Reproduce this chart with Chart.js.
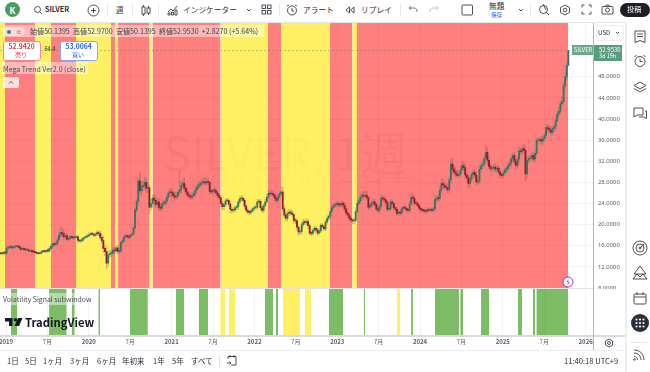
<!DOCTYPE html>
<html lang="ja">
<head>
<meta charset="utf-8">
<title>SILVER 1週</title>
<script src="https://cdn.jsdelivr.net/npm/chart.js@4"></script>
<style>
html,body{margin:0;padding:0;background:#fff}
body{width:650px;height:372px;position:relative;overflow:hidden;font-family:"Noto Sans CJK JP","Noto Sans",sans-serif;color:#2a2e39}
canvas{position:absolute;left:0;top:0;z-index:1}
.t{position:absolute;white-space:nowrap;line-height:1;transform:translateY(-50%);z-index:3}
.b{position:absolute;z-index:2}
svg.i{position:absolute;z-index:3;fill:none;stroke:#3a3d46;stroke-width:.9}
.wm{position:absolute;white-space:nowrap;line-height:1;color:rgba(120,30,30,.08);z-index:0;transform:translateY(-50%)}
</style>
</head>
<body>
<div class="wm" style="left:163px;top:150px;font-size:47px">SILVER, 1週</div>
<div class="wm" style="left:188px;top:180px;font-size:18px">銀 CFD（米ドル／トロイオンス）</div>
<canvas id="myChart" width="650" height="372"></canvas>

<!-- top toolbar -->
<div class="b" style="left:0;top:0;width:650px;height:22px;background:#fff;border-bottom:1px solid #e6e7ea"></div>
<div class="b" style="left:5px;top:2px;width:15px;height:15px;border-radius:50%;background:#4f9a5e;z-index:3"></div>
<div class="t" style="left:9.5px;top:10px;font-size:8.5px;font-weight:700;color:#fff">K</div>
<svg class="i" style="left:33px;top:5px" width="10" height="10"><circle cx="4.5" cy="4.5" r="3"/><path d="M6.7 6.7L9 9"/></svg>
<div class="t" style="left:45px;top:10px;font-size:7.2px;font-weight:700">SILVER</div>
<svg class="i" style="left:87px;top:4px" width="13" height="13"><circle cx="6.5" cy="6.5" r="5.5"/><path d="M6.5 4v5M4 6.5h5"/></svg>
<div class="b" style="left:107px;top:4px;width:1px;height:12px;background:#e6e7ea;z-index:3"></div>
<div class="t" style="left:116px;top:10px;font-size:7.5px">週</div>
<div class="b" style="left:132px;top:4px;width:1px;height:12px;background:#e6e7ea;z-index:3"></div>
<svg class="i" style="left:141px;top:4px" width="10" height="13"><rect x="1" y="3" width="3" height="7"/><rect x="6" y="4" width="3" height="5"/><path d="M2.5 1v2M2.5 10v2M7.5 2v2M7.5 9v2"/></svg>
<div class="b" style="left:158px;top:4px;width:1px;height:12px;background:#e6e7ea;z-index:3"></div>
<svg class="i" style="left:167px;top:4px" width="11" height="12"><path d="M1 8l3-3 2 2 4-5M1 11h2V9H1zM4.5 11h2V8h-2zM8 11h2V6H8z"/></svg>
<div class="t" style="left:183px;top:10px;font-size:7.7px">インジケーター</div>
<svg class="i" style="left:246px;top:8px" width="6" height="5"><path d="M1 1l2 2 2-2"/></svg>
<svg class="i" style="left:261px;top:4px" width="11" height="11"><rect x="1" y="1" width="3.5" height="3.5"/><rect x="6.5" y="1" width="3.5" height="3.5"/><rect x="1" y="6.5" width="3.5" height="3.5"/><rect x="6.5" y="6.5" width="3.5" height="3.5"/></svg>
<div class="b" style="left:279px;top:4px;width:1px;height:12px;background:#e6e7ea;z-index:3"></div>
<svg class="i" style="left:286px;top:4px" width="12" height="13"><circle cx="6" cy="6.5" r="4.5"/><path d="M6 4v3h2M1 2l2-1M11 2L9 1"/></svg>
<div class="t" style="left:303px;top:10px;font-size:7.7px">アラート</div>
<svg class="i" style="left:345px;top:5px" width="10" height="10"><path d="M4.5 2L1 5l3.5 3zM9 2L5.5 5 9 8z"/></svg>
<div class="t" style="left:361px;top:10px;font-size:7.7px">リプレイ</div>
<div class="b" style="left:400px;top:4px;width:1px;height:12px;background:#e6e7ea;z-index:3"></div>
<svg class="i" style="left:408px;top:5px;stroke:#6a6d78" width="10" height="9"><path d="M3 1L1 3l2 2M1 3h5c2 0 3 1 3 4"/></svg>
<svg class="i" style="left:429px;top:5px;stroke:#b9bbc2" width="10" height="9"><path d="M7 1l2 2-2 2M9 3H4C2 3 1 4 1 7"/></svg>
<svg class="i" style="left:461px;top:4px" width="13" height="12"><rect x="1" y="1" width="10.5" height="10" rx="1"/></svg>
<div class="t" style="left:489px;top:6px;font-size:7.7px">無題</div>
<div class="t" style="left:491px;top:15.5px;font-size:5.5px;color:#2962ff">保存</div>
<svg class="i" style="left:518px;top:8px" width="6" height="5"><path d="M1 1l2 2 2-2"/></svg>
<div class="b" style="left:530px;top:4px;width:1px;height:12px;background:#e6e7ea;z-index:3"></div>
<svg class="i" style="left:538px;top:3px" width="12" height="13"><circle cx="5.5" cy="6.5" r="4"/><path d="M8.5 9.5l2.5 2.5M5 1l3 6"/></svg>
<svg class="i" style="left:559px;top:4px" width="12" height="12"><path d="M6 1l4.5 2.5v5L6 11 1.5 8.500v-5z"/><circle cx="6" cy="6" r="1.800"/></svg>
<svg class="i" style="left:581px;top:4px" width="11" height="11"><path d="M1 3.500V1h2.500M7.500 1H10v2.500M10 7.500V10H7.500M3.500 10H1V7.500"/></svg>
<svg class="i" style="left:601px;top:4px" width="13" height="11"><rect x="1" y="2.500" width="11" height="7.500" rx="1"/><circle cx="6.500" cy="6" r="2"/><path d="M4.500 2.500l.7-1.500h2.600l.7 1.500"/></svg>
<div class="b" style="left:620px;top:3px;width:30px;height:14px;border-radius:7px;background:#1e1f22;z-index:3"></div>
<div class="t" style="left:627px;top:10px;font-size:7.2px;color:#fff">投稿</div>

<!-- legend area -->
<div class="b" style="left:3px;top:25px;width:261px;height:12px;background:rgba(255,255,255,.45);z-index:3"></div>
<div class="b" style="left:3px;top:27px;width:22px;height:9px;border-radius:5px;background:rgba(255,255,255,.45);z-index:3"></div>
<div class="b" style="left:7px;top:29.500px;width:4px;height:4px;border-radius:50%;background:#089981;z-index:3"></div>
<div class="t" style="left:16px;top:31.500px;font-size:6px;color:#e0455a">≈</div>
<div class="t" style="left:30px;top:31.500px;font-size:7.1px;color:#3a3d46">始値50.1395&nbsp; 高値52.9700&nbsp; 安値50.1395&nbsp; 終値52.9530&nbsp; +2.8270 (+5.64%)</div>
<div class="b" style="left:3px;top:41px;width:36px;height:18px;background:#fff;border:1px solid #f08a94;border-radius:3px;z-index:3"></div>
<div class="t" style="left:8.500px;top:46px;font-size:6.800px;font-weight:700;color:#e5394d">52.9420</div>
<div class="t" style="left:15px;top:54.500px;font-size:6px;color:#e5394d">売り</div>
<div class="t" style="left:44.500px;top:50px;font-size:5.500px">64.4</div>
<div class="b" style="left:60px;top:41px;width:36px;height:18px;background:#fff;border:1px solid #8aa8f5;border-radius:3px;z-index:3"></div>
<div class="t" style="left:65.500px;top:46px;font-size:6.800px;font-weight:700;color:#2962ff">53.0064</div>
<div class="t" style="left:72px;top:54.500px;font-size:6px;color:#2962ff">買い</div>
<div class="b" style="left:2px;top:62px;width:86px;height:12px;background:rgba(255,255,255,.45);z-index:3"></div>
<div class="t" style="left:3px;top:68.500px;font-size:7px;color:#4a4d57">Mega Trend Ver2.0 (close)</div>
<div class="b" style="left:3px;top:77px;width:16px;height:11px;background:rgba(255,255,255,.75);border-radius:2px;z-index:3"></div>
<svg class="i" style="left:8px;top:80px" width="6" height="5"><path d="M1 3.500l2-2 2 2"/></svg>

<!-- sub window -->
<div class="b" style="left:0;top:288px;width:593px;height:1px;background:#e0e3eb"></div>
<div class="b" style="left:593px;top:289px;width:32px;height:46px;background:#fff"></div>
<div class="b" style="left:0;top:335px;width:625px;height:2px;background:#d8d9dd"></div>
<div class="b" style="left:593px;top:23px;width:1px;height:327px;background:#b2b5be"></div>
<div class="b" style="left:0;top:350px;width:625px;height:1px;background:#eceef2"></div>
<div class="b" style="left:2px;top:293px;width:91px;height:12px;background:rgba(255,255,255,.45);z-index:3"></div>
<div class="t" style="left:3px;top:299px;font-size:6.900px;color:#4a4d57">Volatility Signal subwindow</div>
<svg style="position:absolute;left:5px;top:318px;z-index:3" width="18" height="10"><path fill="#131722" d="M0 0h7.500v8H4V3.500H0zM9.500 8L13 0h4.500l-3.500 8z"/><circle cx="10.500" cy="1.800" r="1.800" fill="#131722"/></svg>
<div class="t" style="left:25px;top:323px;font-size:11.300px;font-weight:600;color:#131722">TradingView</div>

<!-- lightning marker -->
<svg style="position:absolute;left:562px;top:276px;z-index:3" width="12" height="12"><circle cx="6" cy="6" r="5" fill="#fff" stroke="#9c27b0" stroke-width=".9"/><path d="M6.800 2.800L4.500 6.300h1.700L5.200 9.200l2.400-3.500H5.900z" fill="#9c27b0"/></svg>

<!-- price axis tags -->
<div class="b" style="left:596px;top:25px;width:26px;height:14px;background:#fff;border:1px solid #eceef2;border-radius:3px;z-index:3"></div>
<div class="t" style="left:598px;top:32.500px;font-size:6.200px">USD</div>
<svg class="i" style="left:615px;top:31px" width="5" height="4"><path d="M1 1l1.500 1.500L4 1"/></svg>
<div class="b" style="left:572px;top:45px;width:21px;height:10px;background:#6aa98c;z-index:3"></div>
<div class="t" style="left:574px;top:50px;font-size:5.800px;color:#fff">SILVER</div>
<div class="b" style="left:594px;top:45px;width:28px;height:16px;background:#5b9d7f;z-index:3"></div>
<div class="t" style="left:599px;top:49.500px;font-size:6px;color:#fff">52.9530</div>
<div class="t" style="left:599px;top:57px;font-size:5.500px;color:#fff">3d 19h</div>

<!-- bottom bar -->
<div class="t" style="left:7px;top:360.500px;font-size:7.500px">1日</div>
<div class="t" style="left:25px;top:360.500px;font-size:7.500px">5日</div>
<div class="t" style="left:43px;top:360.500px;font-size:7.500px">1ヶ月</div>
<div class="t" style="left:70px;top:360.500px;font-size:7.500px">3ヶ月</div>
<div class="t" style="left:97px;top:360.500px;font-size:7.500px">6ヶ月</div>
<div class="t" style="left:122px;top:360.500px;font-size:7.500px">年初来</div>
<div class="t" style="left:153px;top:360.500px;font-size:7.500px">1年</div>
<div class="t" style="left:172px;top:360.500px;font-size:7.500px">5年</div>
<div class="t" style="left:191px;top:360.500px;font-size:7.500px">すべて</div>
<div class="b" style="left:219px;top:355px;width:1px;height:12px;background:#e0e3eb;z-index:3"></div>
<svg class="i" style="left:226px;top:354px" width="12" height="13"><path d="M2 5V2.500h8V11H5M2 2.500h8M4 1v2.500M8 1v2.500M1 9h4M3.500 7.500L5 9l-1.500 1.500"/></svg>
<div class="t" style="left:564px;top:360.500px;font-size:7.600px">11:40:18 UTC+9</div>
<svg class="i" style="left:604px;top:338px" width="10" height="10"><path d="M5 1l3.500 2v4L5 9 1.500 7V3z"/><circle cx="5" cy="5" r="1.500"/></svg>

<!-- right sidebar -->
<div class="b" style="left:625px;top:22px;width:2px;height:350px;background:#eceef2;z-index:3"></div>
<div class="b" style="left:627px;top:22px;width:23px;height:350px;background:#fff;z-index:2"></div>
<svg class="i" style="left:633px;top:30px" width="14" height="14"><path d="M2 1h10v11.500L7 10.500 2 12.500zM4 4h6M4 6.500h6"/></svg>
<svg class="i" style="left:633px;top:54px" width="14" height="14"><circle cx="7" cy="7.500" r="5"/><path d="M7 4.500v3h2.500M1.500 3l2-2M12.500 3l-2-2"/></svg>
<svg class="i" style="left:633px;top:80px" width="14" height="14"><path d="M7 2l6 3.500L7 9 1 5.500zM1 8.500L7 12l6-3.500"/></svg>
<svg class="i" style="left:632px;top:106px" width="16" height="14"><path d="M2 2h9v7H5L2 11zM13 5h1.500v7.500L12 11H7"/></svg>
<svg class="i" style="left:632px;top:240px" width="16" height="16"><circle cx="8" cy="8" r="7"/><circle cx="8" cy="8" r="4"/><circle cx="8" cy="8" r="1"/><path d="M8 8l4-4"/></svg>
<svg class="i" style="left:632px;top:265px" width="16" height="15"><path d="M8 1l6 8H2zM1 14l4-5 3 3 3-3 4 5z"/></svg>
<svg class="i" style="left:633px;top:291px" width="14" height="14"><rect x="1" y="3" width="12" height="10" rx="1"/><path d="M1 6h12M4 1v3M10 1v3"/></svg>
<div class="b" style="left:631px;top:314px;width:18px;height:18px;border-radius:50%;background:#2a2e39;z-index:3"></div>
<svg style="position:absolute;left:635px;top:318px;z-index:3" width="10" height="10" fill="#fff"><circle cx="1.500" cy="1.500" r="1.100"/><circle cx="5" cy="1.500" r="1.100"/><circle cx="8.500" cy="1.500" r="1.100"/><circle cx="1.500" cy="5" r="1.100"/><circle cx="5" cy="5" r="1.100"/><circle cx="8.500" cy="5" r="1.100"/><circle cx="1.500" cy="8.500" r="1.100"/><circle cx="5" cy="8.500" r="1.100"/><circle cx="8.500" cy="8.500" r="1.100"/></svg>
<div class="b" style="left:631px;top:342px;width:16px;height:1px;background:#e6e7ea;z-index:3"></div>
<svg class="i" style="left:633px;top:348px" width="13" height="13"><path d="M1 5c4 0 7 3 7 7M1 2c6 0 10 4 10 10M1 8.500c2 0 3.500 1.500 3.500 3.500"/><circle cx="1.500" cy="11.500" r=".8"/></svg>

<script>
// x values are decimal years, weekly bars from early Dec 2018
const firstWeek = 2018.93;
const weekStep = 7 / 365.25;

const closes = [
  14.6,14.5,14.7,14.6,15.5,15.7,15.8,15.6,15.7,15.8,
  15.9,15.9,15.6,15.3,15.5,15.3,15.2,15.2,15.0,15.1,
  14.9,14.8,14.7,14.6,14.5,14.6,14.9,15.0,14.9,15.1,
  15.0,15.5,15.9,16.3,16.2,16.4,17.1,18.0,18.5,18.3,
  17.7,17.9,17.2,17.4,17.7,17.6,17.5,17.6,17.7,17.0,
  16.9,17.0,17.4,17.6,17.7,17.9,18.1,18.3,18.2,18.0,
  18.2,18.5,18.3,17.6,17.0,15.5,14.9,12.7,14.3,14.5,
  14.6,15.2,15.0,15.6,14.9,15.0,16.6,16.9,17.7,17.9,
  17.7,17.6,18.0,18.2,19.4,22.8,24.4,28.3,26.4,27.2,
  27.4,28.0,26.9,27.0,23.3,24.0,25.0,24.6,23.8,24.3,
  23.3,23.1,24.0,24.0,24.4,25.2,26.0,26.2,26.0,25.5,
  25.2,25.4,26.1,26.5,27.4,27.8,26.9,26.2,25.6,25.4,
  25.2,25.5,25.9,26.6,27.1,27.5,27.8,28.0,28.1,27.9,
  28.1,28.0,26.3,26.2,26.5,26.4,26.0,25.5,25.1,24.0,
  23.4,23.8,24.5,24.6,23.9,22.9,22.7,22.8,23.2,23.4,
  24.3,24.9,25.0,24.6,23.5,22.7,22.4,22.3,22.6,23.0,
  23.2,23.3,24.3,24.4,23.2,22.7,23.6,24.3,25.2,25.9,
  25.8,25.9,25.6,25.0,24.6,25.3,25.9,26.2,23.0,21.8,
  21.2,22.1,22.4,22.2,21.9,20.8,20.7,19.5,18.6,18.7,
  20.0,20.5,20.4,20.6,19.8,18.4,18.3,18.9,19.3,19.0,
  18.4,18.8,19.9,19.6,19.2,20.5,21.2,21.6,22.5,23.3,
  23.6,23.8,24.0,23.8,23.7,24.1,23.7,23.0,22.2,21.8,
  21.2,20.9,20.7,20.8,22.5,24.0,24.5,25.2,25.5,25.4,
  25.6,25.1,23.3,23.6,24.1,24.3,23.8,23.0,22.7,23.4,
  25.0,24.9,24.7,24.2,22.9,23.0,24.3,24.0,23.2,22.9,
  22.1,22.3,22.2,23.0,23.3,23.1,22.8,22.7,23.9,25.2,
  25.0,24.1,24.0,23.6,23.1,22.8,22.7,22.6,22.5,22.8,
  22.7,22.9,22.7,23.0,24.8,25.0,24.9,26.5,27.8,27.5,
  27.1,27.0,26.6,28.5,31.5,30.5,30.0,29.6,29.3,29.5,
  30.4,31.2,30.8,29.4,28.9,27.8,28.6,29.5,29.9,29.4,
  28.1,28.3,30.5,31.2,31.4,32.5,33.7,32.2,31.0,30.6,
  30.7,30.9,30.5,30.7,30.0,29.4,29.3,29.8,30.3,30.6,
  31.2,31.6,32.5,33.1,32.0,31.2,32.4,34.0,33.8,34.4,
  34.1,29.6,32.2,32.5,32.7,33.1,32.4,33.5,35.9,36.0,
  36.1,35.8,36.3,36.9,38.4,38.2,37.9,37.5,38.2,38.5,
  39.7,40.9,41.5,42.9,43.3,46.3,48.0,50.1395,52.953
];
const firstOpen = 14.5;

// how far each wick sticks out past the body
const wickUp = [
  .2,.2,.2,.3,.3,.2,.2,.2,.2,.2, .2,.1,.2,.2,.2,.2,.1,.2,.2,.1,
  .2,.1,.2,.1,.1,.2,.2,.2,.1,.2, .3,.3,.4,.2,.4,.3,.4,.6,1.1,.9,
  .8,.4,.4,.3,.3,.2,.2,.2,.2,.3, .2,.3,.2,.2,.2,.3,.4,.2,.3,.2,
  .3,.4,.3,.5,.6,.8,.6,.8,.6,.8, .4,.5,.5,.4,.5,.4,.3,.4,.3,.3,
  .3,.4,.2,.2,.2,.3,.4,.5,1.6,1.0, .9,1.0,.8,.9,.5,.8,.6,.7,.8,.5,
  .8,.6,.5,.7,.5,.6,.5,.6,.7,.5, .7,.6,.6,3.6,.8,.9,1.2,.6,.7,.5,
  .5,.6,.5,.6,.6,.5,.5,.6,.7,.8, .6,.7,.3,.5,.4,.5,.5,.4,.4,.5,
  .5,.5,.4,.4,.3,.4,.3,.4,.4,.3, .4,.4,.5,.4,.4,.4,.4,.3,.3,.3,
  .3,.4,.5,.4,.4,.3,.4,.5,.6,.7, .5,.7,.5,.4,.5,.4,.4,1.0,.9,.6,
  .5,.5,.5,.4,.4,.3,.4,.4,.3,.4, .4,.5,.4,.6,.4,.3,.4,.3,.4,.3,
  .4,.3,.3,.3,.4,.4,.5,.4,.5,.5, .4,.4,.4,.4,.4,.3,.4,.5,.4,.4,
  .4,.4,.3,.4,.5,.6,.6,.7,.7,.8, .8,.7,.3,.5,.4,.6,.5,.4,.6,.5,
  .6,.6,.5,.5,.4,.4,.5,.5,.4,.3, .4,.4,.4,.4,.3,.4,.3,.3,.6,.8,
  .7,.5,.4,.4,.3,.3,.4,.3,.3,.4, .3,.3,.3,.4,.6,.6,.5,.6,.8,.9,
  .6,.6,.8,.7,1.0,1.0,.8,.8,.7,.6, .7,.8,.6,.8,.5,.6,.6,.5,.5,.6,
  .6,.7,.8,.6,.7,.7,1.3,.8,.8,.6, .5,.5,.6,.5,.5,.6,.4,.6,.5,.5,
  .6,.6,.5,.5,.6,.5,.6,.6,.5,.6, .8,.7,.6,.6,.5,.5,.5,.5,.5,.5,
  .5,.6,.5,.5,.6,.6,.6,.7,.6,.5, .5,.5,.6,.5,.7,.6,.8,.9,.02
];
const wickDown = [
  .2,.3,.2,.2,.3,.2,.1,.2,.2,.2, .1,.2,.2,.2,.1,.2,.1,.2,.2,.1,
  .2,.2,.2,.2,.1,.1,.1,.2,.2,.2, .2,.2,.3,.3,.3,.2,.3,.3,.5,.6,
  .5,.4,.4,.3,.3,.2,.3,.2,.2,.3, .2,.3,.2,.2,.2,.2,.2,.3,.2,.3,
  .3,.3,.4,.4,.5,.7,.8,1.0,.6,.5, .5,.4,.6,.4,.5,.4,.3,.3,.3,.3,
  .3,.3,.2,.2,.2,.4,.5,.6,.6,1.0, .7,.7,.8,.8,1.3,.6,.7,.7,.5,.6,
  .7,.5,.5,.5,.5,.5,.4,.4,.7,.5, .6,.4,.5,.4,.6,.5,.5,.5,.5,.5,
  .4,.5,.4,.5,.4,.4,.4,.4,.4,.5, .4,.4,.5,.4,.5,.4,.5,.4,.4,.5,
  .6,.5,.4,.3,.4,.6,.5,.4,.4,.4, .5,.4,.3,.4,.5,.5,.4,.4,.4,.3,
  .4,.3,.4,.3,.4,.4,.4,.3,.3,.4, .4,.3,.4,.5,.4,.4,.3,.4,.4,.5,
  .5,.5,.4,.4,.3,.4,.5,.5,.6,.5, .4,.4,.3,.4,.5,.4,.4,.3,.4,.3,
  .4,.3,.3,.3,.4,.3,.4,.4,.4,.3, .4,.4,.4,.4,.4,.3,.4,.5,.4,.5,
  .5,.4,.5,.6,.4,.4,.4,.4,.5,.4, .5,.4,.5,.4,.4,.5,.4,.4,.4,.5,
  .4,.5,.4,.4,.4,.3,.4,.5,.4,.4, .4,.4,.4,.4,.3,.3,.4,.4,.3,.3,
  .4,.4,.3,.3,.4,.3,.3,.3,.4,.3, .3,.3,.3,.3,.4,.5,.5,.5,.5,.6,
  .4,.5,.6,.5,.8,.7,.6,.5,.5,.4, .5,.5,.6,.7,.6,.8,.7,.5,.5,.6,
  .6,.5,.6,.5,.6,.5,.7,.8,.6,.5, .6,.5,.5,.6,.5,.5,.4,.5,.5,.4,
  .5,.5,.6,.5,.6,.6,.5,.5,.5,.5, .6,1.3,.8,.6,.5,.5,.5,.5,.5,.5,
  .5,.6,.6,.5,.5,.6,.5,.5,.5,.6, .6,.5,.5,.5,.5,.5,.6,.6,0
];

// background regime bands, [start, end] in decimal years
const redBands = [[2018.988,2019.350],[2019.543,2019.845],[2020.268,2020.316],[2020.353,2020.733],[2020.769,2021.591],[2022.164,2022.321],[2022.913,2023.182],[2023.239,2025.787]];
const yellowBands = [[2018.928,2018.988],[2019.350,2019.543],[2019.845,2020.268],[2020.316,2020.353],[2020.733,2020.769],[2021.591,2022.164],[2022.321,2022.913],[2023.182,2023.239]];

// volatility subwindow bands
const greenSignal = [[2019.06,2019.137],[2019.52,2019.733],[2019.794,2019.83],[2020.115,2020.135],[2020.498,2020.713],[2021.053,2021.153],[2021.327,2021.44],[2022.128,2022.225],[2022.261,2022.285],[2022.9,2023.07],[2023.32,2023.336],[2023.892,2023.917],[2024.181,2024.47],[2024.486,2024.522],[2024.737,2024.834],[2025.18,2025.232],[2025.365,2025.389],[2025.405,2025.787]];
const yellowSignal = [[2021.588,2021.648],[2021.69,2021.766],[2022.346,2022.551],[2022.611,2022.683],[2023.722,2023.759]];

const priceTicks = [8,12,16,20,24,28,32,36,40,44,48];
const timeTicks = [2019,2019.5,2020,2020.5,2021,2021.5,2022,2022.5,2023,2023.5,2024,2024.5,2025,2025.5,2026];
const timeLabels = ["2019","7月","2020","7月","2021","7月","2022","7月","2023","7月","2024","7月","2025","7月","2026"];
const lastPrice = 52.953;
const priceMin = 8, priceMax = 58.19;
const timeMin = 2018.9275, timeMax = 2026.089;

const weekX = closes.map((c, i) => firstWeek + i * weekStep);
const opens = closes.map((c, i) => i === 0 ? firstOpen : closes[i - 1]);
const bodies = closes.map((c, i) => ({x: weekX[i], y: [opens[i], c]}));
const wicks = closes.map((c, i) => ({
  x: weekX[i],
  y: [Math.min(opens[i], c) - wickDown[i], Math.max(opens[i], c) + wickUp[i]]
}));

function bandPoints(bands, top) {
  const pts = [];
  bands.forEach(b => {
    pts.push({x: b[0], y: top}, {x: b[1], y: top}, {x: b[1], y: null});
  });
  return pts;
}
function bandDataset(bands, top, axis, color) {
  return {
    type: 'line',
    data: bandPoints(bands, top),
    yAxisID: axis,
    backgroundColor: color,
    borderWidth: 0,
    pointRadius: 0,
    fill: 'start',
    spanGaps: false,
    order: 5
  };
}

const chart = new Chart(document.getElementById("myChart").getContext("2d"), {
  type: 'bar',
  data: {
    datasets: [
      bandDataset(redBands, priceMax, 'y', 'rgba(255,0,0,0.5)'),
      bandDataset(yellowBands, priceMax, 'y', 'rgba(255,235,59,0.8)'),
      bandDataset(greenSignal, 1, 'ySub', 'rgba(68,160,35,0.7)'),
      bandDataset(yellowSignal, 1, 'ySub', 'rgba(255,235,59,0.8)'),
      {
        data: wicks,
        yAxisID: 'y',
        grouped: false,
        barThickness: 0.6,
        backgroundColor: ctx => closes[ctx.dataIndex] >= opens[ctx.dataIndex] ? 'rgba(70,110,95,0.35)' : 'rgba(130,60,70,0.35)',
        order: 2
      },
      {
        data: bodies,
        yAxisID: 'y',
        grouped: false,
        barThickness: 1.2,
        minBarLength: 1,
        backgroundColor: ctx => closes[ctx.dataIndex] >= opens[ctx.dataIndex] ? '#2f7a5c' : '#8a1f2e',
        order: 1
      },
      {
        type: 'line',
        data: [{x: timeMin, y: lastPrice}, {x: timeMax, y: lastPrice}],
        yAxisID: 'y',
        borderColor: 'rgba(70,120,95,0.55)',
        borderWidth: 0.7,
        borderDash: [2, 2],
        pointRadius: 0,
        order: 0
      }
    ]
  },
  options: {
    responsive: false,
    animation: false,
    events: [],
    layout: {padding: {top: 23, right: 25, bottom: 22, left: 0}},
    plugins: {legend: {display: false}, tooltip: {enabled: false}},
    scales: {
      x: {
        type: 'linear',
        offset: false,
        min: timeMin,
        max: timeMax,
        afterBuildTicks: s => { s.ticks = timeTicks.map(v => ({value: v})); },
        afterFit: s => { s.height = 15; s.paddingLeft = 0; s.paddingRight = 0; },
        grid: {color: 'rgba(40,50,80,0.06)', drawTicks: false, offset: false},
        border: {display: false},
        ticks: {
          autoSkip: false,
          maxRotation: 0,
          padding: 3,
          color: '#5d606b',
          font: ctx => ({family: '"Noto Sans CJK JP"', size: 6, weight: Number.isInteger(ctx.tick && ctx.tick.value) ? 600 : 400}),
          callback: (v, i) => timeLabels[i]
        }
      },
      y: {
        position: 'right',
        stack: 'panes',
        stackWeight: 265,
        min: priceMin,
        max: priceMax,
        afterBuildTicks: s => { s.ticks = priceTicks.map(v => ({value: v})); },
        afterFit: s => { s.width = 32; },
        grid: {color: 'rgba(40,50,80,0.06)', drawTicks: false},
        border: {display: false},
        ticks: {
          padding: 5,
          color: '#5d606b',
          font: {family: '"Noto Sans"', size: 5.9},
          callback: v => v.toFixed(4)
        }
      },
      ySub: {
        position: 'right',
        stack: 'panes',
        stackWeight: 47,
        min: 0,
        max: 1,
        afterFit: s => { s.width = 32; },
        grid: {display: false},
        border: {display: false},
        ticks: {display: false}
      }
    }
  }
});
</script>
</body>
</html>
